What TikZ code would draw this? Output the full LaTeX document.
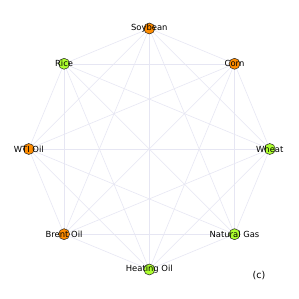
\documentclass[tikz,border=0pt]{standalone}
\usepackage{fontspec}
\setmainfont{DejaVu Sans}
\usetikzlibrary{calc}
\definecolor{orangec}{RGB}{255,140,0}
\definecolor{greenc}{RGB}{173,255,47}
\definecolor{edgec}{RGB}{230,230,243}
\tikzset{
  edge/.style={draw=edgec, line width=0.55pt},
  vert/.style={circle, draw=black!85, line width=0.5pt, minimum size=11pt, inner sep=0pt},
  lab/.style={font=\fontsize{8.4}{10}\selectfont, text=black, inner sep=0pt},
  tag/.style={font=\fontsize{9.5}{11}\selectfont, text=black, inner sep=0pt}
}
\begin{document}
\begin{tikzpicture}[x=1pt,y=1pt]
\useasboundingbox (0,0) rectangle (299,299);
\fill[white] (0,0) rectangle (299,299);
\def\R{120.5}
\foreach \i/\a in {1/90,2/45,3/0,4/-45,5/-90,6/-135,7/180,8/135}
  \coordinate (v\i) at ($(149.3,150)+(\a:\R)$);
\foreach \i in {1,...,7}{
  \pgfmathtruncatemacro\k{\i+1}
  \foreach \j in {\k,...,8}
    \draw[edge] (v\i) -- (v\j);
}
\foreach \i/\c/\t in {1/orangec/Soybean,2/orangec/Corn,3/greenc/Wheat,4/greenc/Natural Gas,5/greenc/Heating Oil,6/orangec/Brent Oil,7/orangec/WTI Oil,8/greenc/Rice}{
  \node[vert, fill=\c] (c\i) at (v\i) {};
  \node[lab] (l\i) at (v\i) {\t};
}
\node[tag] (tag) at (259,23) {(c)};
\end{tikzpicture}
\end{document}
